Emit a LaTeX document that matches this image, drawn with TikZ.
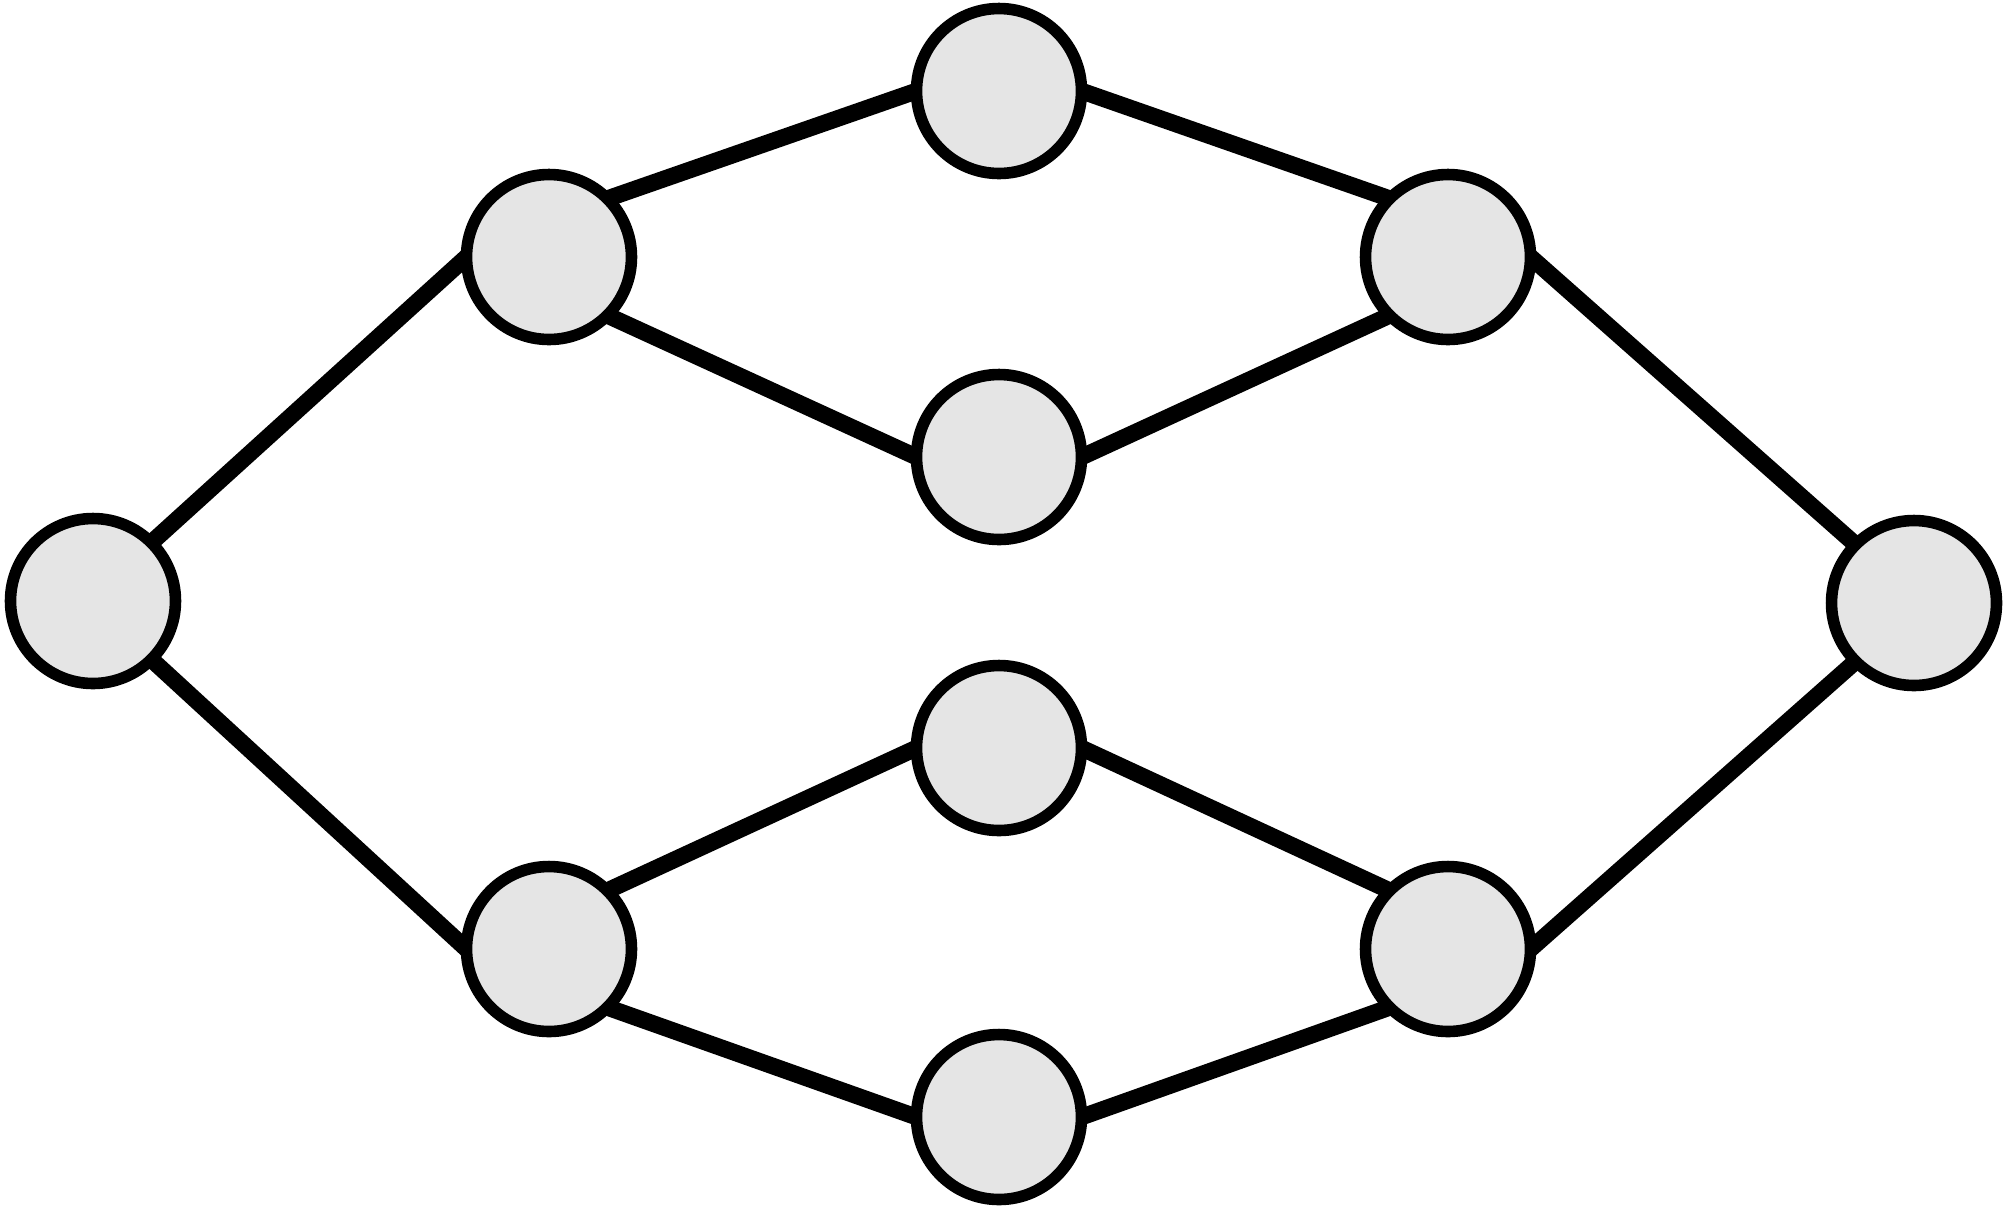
\documentclass[tikz,border=0pt]{standalone}
\usepackage{tikz}
\usetikzlibrary{backgrounds}
\definecolor{nodegray}{HTML}{E5E5E5}
\tikzset{vertex/.style = {circle, draw = black, fill = nodegray, line width = 6.6pt, minimum size = 3.3cm, inner sep = 0pt, outer sep = 0pt}}
\tikzset{edge/.style = {line width = 9.5pt}}

\begin{document}
\begin{tikzpicture}[x = 0.02cm, y = -0.02cm]
\useasboundingbox (0,0) rectangle (2007,1205);
\node[vertex] (L) at (93,601) {};
\node[vertex] (A1) at (549,257) {};
\node[vertex] (A2) at (549,949) {};
\node[vertex] (T1) at (999,91) {};
\node[vertex] (T2) at (999,457) {};
\node[vertex] (T3) at (999,748) {};
\node[vertex] (T4) at (999,1117) {};
\node[vertex] (B1) at (1448,257) {};
\node[vertex] (B2) at (1448,949) {};
\node[vertex] (R) at (1914,603) {};
\begin{scope}[on background layer]
\foreach \a/\b in {L.north east/A1.west, L.south east/A2.west,
  A1.north east/T1.west, A1.south east/T2.west,
  A2.north east/T3.west, A2.south east/T4.west,
  T1.east/B1.north west, T2.east/B1.south west,
  T3.east/B2.north west, T4.east/B2.south west,
  B1.east/R.north west, B2.east/R.south west}
  \draw[edge] (\a) -- (\b);
\end{scope}
\end{tikzpicture}
\end{document}
